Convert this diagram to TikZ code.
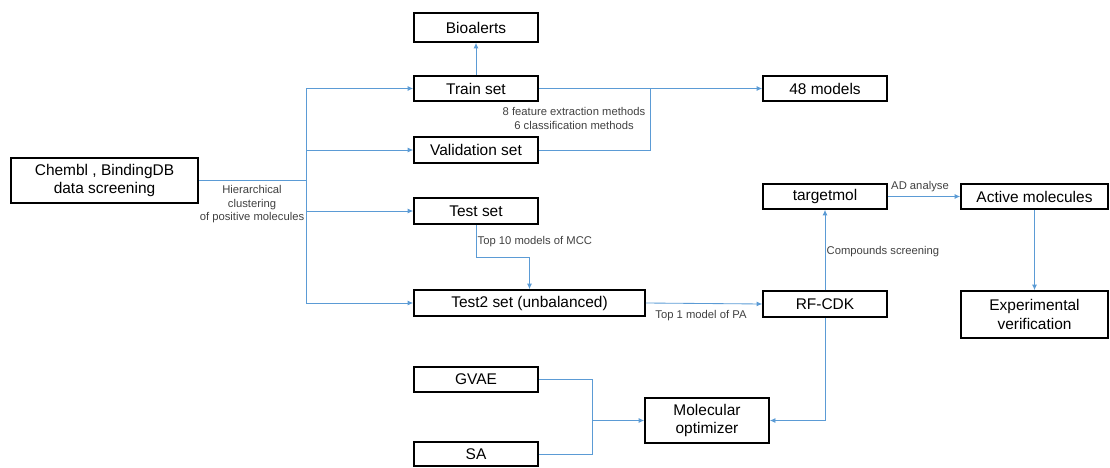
\documentclass[tikz,border=0pt]{standalone}
\usepackage{fontspec}
\setmainfont{Liberation Sans}
\usepackage{xcolor}
\usetikzlibrary{calc, positioning, arrows.meta}
\definecolor{flowblue}{RGB}{91,155,213}

\begin{document}
\begin{tikzpicture}[x=0.025cm, y=-0.025cm,
	box/.style={draw=black, line width=1.1pt, inner sep=0pt, align=center, font=\fontsize{11}{13}\selectfont},
	flow/.style={draw=flowblue, line width=0.6pt, -{Latex[length=4pt, width=3.5pt]}},
	link/.style={draw=flowblue, line width=0.6pt},
	lbl/.style={font=\fontsize{8}{9.6}\selectfont, text=black!75, inner sep=1pt, align=center}]
	\useasboundingbox (0,0) rectangle (1110,467);
	
	% left column
	\node [box, minimum width=4.675cm, minimum height=1.125cm] (chembl) at (104.5,180.5) {Chembl , BindingDB\\ data screening};
	\node [box, minimum width=3.1cm, minimum height=0.725cm] (bio) at (476,27.5) {Bioalerts};
	\node [box, minimum width=3.1cm, minimum height=0.625cm] (train) at (476,88.5) {Train set};
	\node [box, minimum width=3.1cm, minimum height=0.65cm] (val) at (476,150) {Validation set};
	\node [box, minimum width=3.1cm, minimum height=0.65cm] (test) at (476,211) {Test set};
	\node [box, minimum width=5.775cm, minimum height=0.65cm] (test2) at (529.5,303) {Test2 set (unbalanced)};
	\node [box, minimum width=3.1cm, minimum height=0.625cm] (gvae) at (476,379.5) {GVAE};
	\node [box, minimum width=3.1cm, minimum height=0.6cm] (sa) at (476,454) {SA};
	
	% right part
	\node [box, minimum width=3.1cm, minimum height=0.625cm] (models) at (825,88.5) {48 models};
	\node [box, minimum width=3.1cm, minimum height=0.625cm] (targetmol) at (825,196.5) {targetmol};
	\node [box, minimum width=3.1cm, minimum height=0.65cm] (rfcdk) at (825,304) {RF-CDK};
	\node [box, minimum width=3.1cm, minimum height=1.125cm] (optim) at (707,420.5) {Molecular\\ optimizer};
	\node [box, minimum width=3.675cm, minimum height=0.625cm] (active) at (1034.5,196.5) {Active molecules};
	\node [box, minimum width=3.675cm, minimum height=1.175cm] (exper) at (1034.5,314.5) {Experimental\\ verification};
	
	% split of the data
	\coordinate (split) at (306,180.5);
	\draw [link] (chembl.east) -- (split);
	\draw [flow] (split) |- (train.west);
	\draw [flow] (split) |- (val.west);
	\draw [flow] (split) |- (test.west);
	\draw [flow] (split) |- (test2.west);
	\node [lbl, anchor=north] (hier) at (252,184) {Hierarchical\\ clustering\\ of positive molecules};
	
	\draw [flow] (train.north) -- (bio.south);
	
	\coordinate (merge) at (650,88.5);
	\draw [flow] (train.east) -- (models.west);
	\draw [link] (val.east) -| (merge);
	\node [lbl, anchor=north] (feat) at (574,106) {8 feature extraction methods\\ 6 classification methods};
	
	\coordinate (mccbend) at (476,257);
	\draw [link] (test.south) -- (mccbend);
	\draw [flow] (mccbend) -| (test2.north);
	\node [lbl, anchor=south west] (mcc) at (476,249) {Top 10 models of MCC};
	
	\draw [flow] (test2.east) -- (rfcdk.west);
	\node [lbl, anchor=north] (pa) at (701,309) {Top 1 model of PA};
	
	\draw [flow] (rfcdk.north) -- (targetmol.south);
	\node [lbl, anchor=west] (screen) at (825,252) {Compounds screening};
	
	\draw [flow] (targetmol.east) -- (active.west);
	\node [lbl, anchor=south] (ad) at (920,194) {AD analyse};
	
	\draw [flow] (active.south) -- (exper.north);
	
	% optimizer inputs
	\coordinate (optjoin) at (592,420.5);
	\draw [link] (gvae.east) -| (optjoin);
	\draw [link] (sa.east) -| (optjoin);
	\draw [flow] (optjoin) -- (optim.west);
	\draw [flow] (rfcdk.south) |- (optim.east);
\end{tikzpicture}
\end{document}
